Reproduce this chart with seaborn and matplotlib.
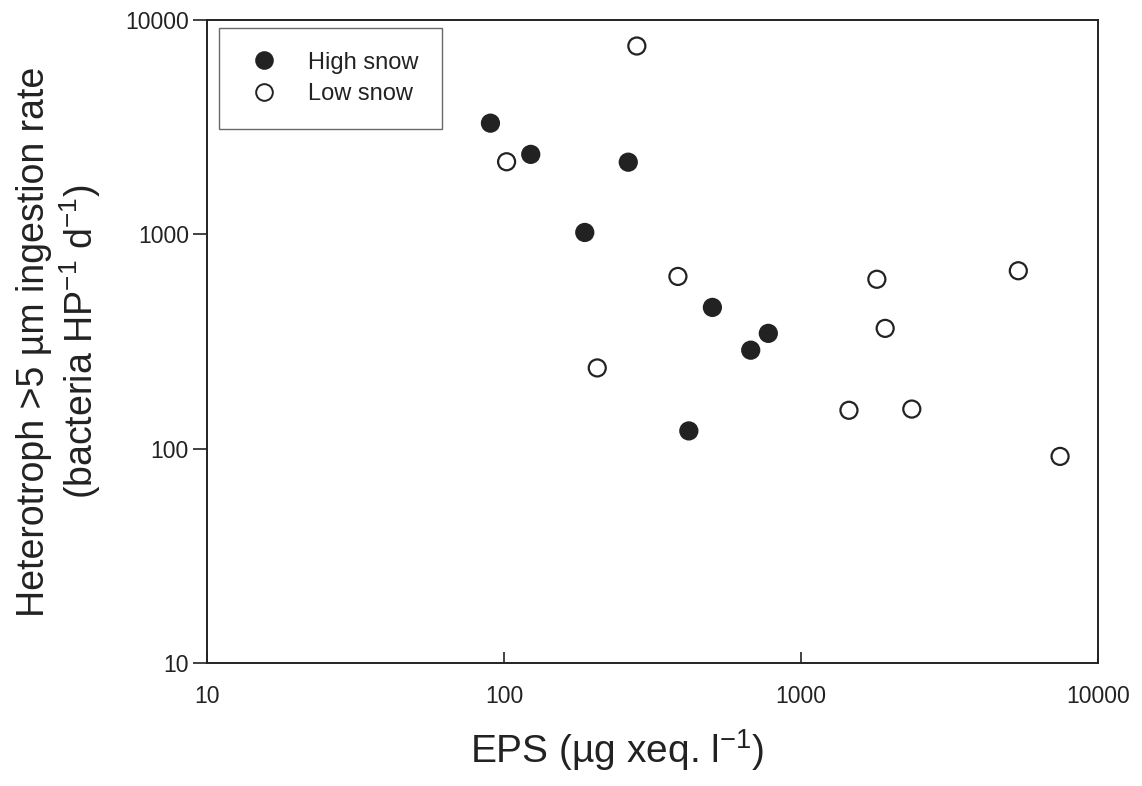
"""EPS vs heterotroph ingestion rate, high vs low snow sites (log-log scatter)."""

import matplotlib

matplotlib.use("Agg")
import matplotlib.pyplot as plt
import pandas as pd
import seaborn as sns
from matplotlib.lines import Line2D

# values
high_eps = [90, 123, 187, 262, 419, 503, 677, 776]
high_rate = [3300, 2360, 1020, 2170, 121, 456, 288, 345]
low_eps = [102, 206, 280, 385, 1450, 1800, 1920, 2360, 5390, 7450]
low_rate = [2180, 238, 7560, 636, 151, 617, 364, 153, 676, 92]
groups = ["High snow", "Low snow"]
ticks = [10, 100, 1000, 10000]
tick_labels = ["10", "100", "1000", "10000"]

df = pd.DataFrame(
    {
        "eps": high_eps + low_eps,
        "rate": high_rate + low_rate,
        "snow": [groups[0]] * len(high_eps) + [groups[1]] * len(low_eps),
    }
)

sns.set_theme(style="ticks")
plt.rcParams["font.family"] = ["Liberation Sans", "DejaVu Sans"]
plt.rcParams["mathtext.fontset"] = "custom"
plt.rcParams["mathtext.rm"] = "Liberation Sans"
plt.rcParams["mathtext.it"] = "Liberation Sans:italic"

ink = "#222222"
fig = plt.figure(figsize=(11.42, 7.86), dpi=100)
ax = fig.add_axes([0.1813, 0.1565, 0.7802, 0.8181])

sns.scatterplot(
    data=df,
    x="eps",
    y="rate",
    hue="snow",
    hue_order=groups,
    palette={groups[0]: ink, groups[1]: "white"},
    edgecolor=ink,
    linewidth=1.6,
    s=150,
    legend=False,
    ax=ax,
    zorder=3,
)

ax.set_xscale("log")
ax.set_yscale("log")
ax.set_xlim(10, 10000)
ax.set_ylim(10, 10000)
ax.set_xticks(ticks)
ax.set_xticklabels(tick_labels)
ax.set_yticks(ticks)
ax.set_yticklabels(tick_labels)
ax.minorticks_off()

for side in ["left", "right", "top", "bottom"]:
    ax.spines[side].set_visible(True)
    ax.spines[side].set_color(ink)
    ax.spines[side].set_linewidth(1.4)

ax.tick_params(axis="x", direction="in", length=8, width=1.2, pad=16,
               labelsize=16.5, colors=ink)
ax.tick_params(axis="y", direction="out", length=10, width=1.2, pad=3,
               labelsize=16.5, colors=ink)

ax.set_xlabel("EPS (µg xeq. l$^{-1}$)", fontsize=28, color=ink)
ax.set_ylabel(
    "Heterotroph >5 µm ingestion rate\n(bacteria HP$^{-1}$ d$^{-1}$)",
    fontsize=27,
    color=ink,
    linespacing=1.15,
)
ax.xaxis.set_label_coords(0.46, -0.10)
ax.yaxis.set_label_coords(-0.117, 0.5)

handles = [
    Line2D([], [], marker="o", linestyle="none", markersize=12,
           markerfacecolor=ink, markeredgecolor=ink, markeredgewidth=1.4),
    Line2D([], [], marker="o", linestyle="none", markersize=12,
           markerfacecolor="white", markeredgecolor=ink, markeredgewidth=1.4),
]
leg = ax.legend(
    handles,
    groups,
    loc="upper left",
    bbox_to_anchor=(0.0135, 0.9876),
    borderaxespad=0,
    fontsize=17,
    frameon=True,
    fancybox=False,
    edgecolor="#444444",
    borderpad=1.0,
    handletextpad=0.95,
    labelspacing=0.4,
    handlelength=1.8,
)
leg.get_frame().set_linewidth(1.0)
for t in leg.get_texts():
    t.set_color(ink)

fig.savefig("out.png", dpi=100)
